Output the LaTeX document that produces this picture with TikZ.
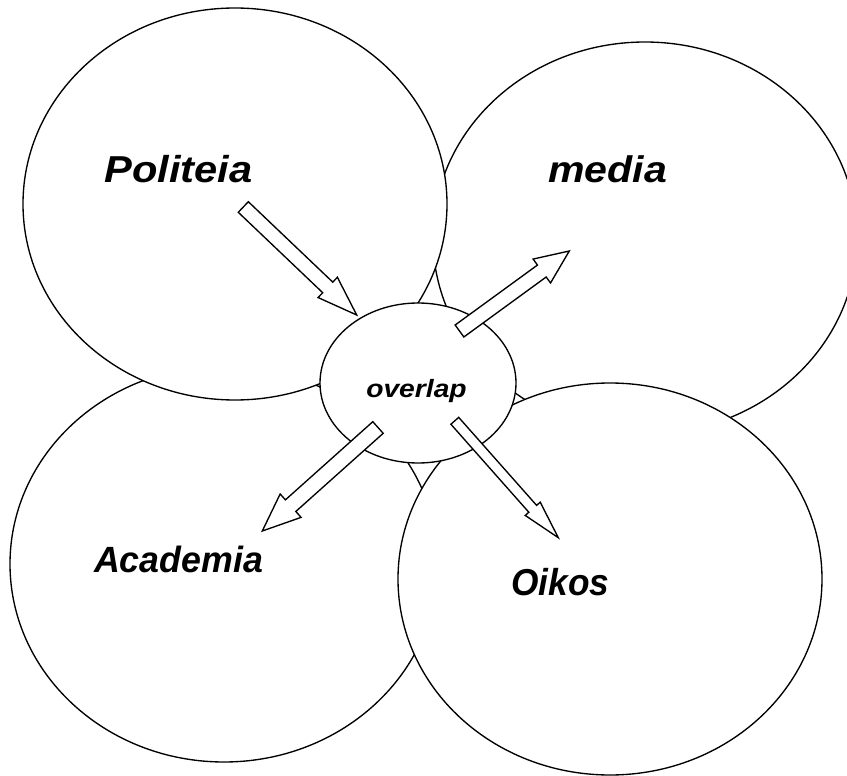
\documentclass[tikz,border=0pt]{standalone}
\usepackage{fontspec}
\setmainfont{Liberation Sans}
\usepackage{graphicx}
\usetikzlibrary{shapes.geometric,calc}
\newcommand{\labtext}[3]{\fontsize{#1pt}{#1pt}\selectfont\scalebox{#2}[1]{#3}}
\newcommand{\blockarrow}[5]{%
  \coordinate (ba-c) at ($(#2)!#5!(#1)$);
  \draw[hollowarrow] ($(#1)!#3!90:(#2)$) -- ($(ba-c)!#3!90:(#2)$) -- ($(ba-c)!#4!90:(#2)$) -- (#2)
    -- ($(ba-c)!#4!-90:(#2)$) -- ($(ba-c)!#3!-90:(#2)$) -- ($(#1)!#3!-90:(#2)$) -- cycle;}
\begin{document}
\begin{tikzpicture}[x=1pt,y=-1pt,
  circ/.style={draw=black, fill=white, ellipse, inner sep=0pt, outer sep=0pt, line width=1.35pt},
  big/.style={circ, minimum width=424pt, minimum height=392pt},
  lbl/.style={anchor=base, inner sep=0pt, font=\bfseries\itshape},
  hollowarrow/.style={draw=black, fill=white, line width=1.35pt, line join=miter}]
\useasboundingbox[fill=white] (0,0) rectangle (847,776);
% big circles (stacking order as in the reference)
\node[circ, minimum width=428pt, minimum height=396pt] (acad) at (224,564) {};
\node[big] (media) at (645,238) {};
\node[big] (pol) at (235,204) {};
\node[big] (oikos) at (610,579) {};
% central ellipse
\node[circ, minimum width=196pt, minimum height=160pt] (ov) at (418,383) {};
% labels
\node[lbl] (lpol) at (178.5,182) {\labtext{37.5}{1.11}{Politeia}};
\node[lbl] (lmedia) at (607.5,182) {\labtext{37}{1.11}{media}};
\node[lbl] (lacad) at (178.5,572) {\labtext{36.5}{0.98}{Academia}};
\node[lbl] (loikos) at (560.5,595) {\labtext{37.5}{0.94}{Oikos}};
\node[lbl] (lov) at (416.5,397) {\labtext{25}{1.13}{overlap}};
% arrow end points
\coordinate (a1t) at (243.3,207);
\coordinate (a1h) at (356.7,315);
\coordinate (a2t) at (459.5,331);
\coordinate (a2h) at (569.3,251);
\coordinate (a3t) at (378,427.5);
\coordinate (a3h) at (262.3,531);
\coordinate (a4t) at (454.8,420.8);
\coordinate (a4h) at (558.3,537.7);
\blockarrow{a1t}{a1h}{7.3pt}{14pt}{40pt}
\blockarrow{a2t}{a2h}{7.4pt}{14.8pt}{34pt}
\blockarrow{a3t}{a3h}{7.8pt}{15.7pt}{38pt}
\blockarrow{a4t}{a4h}{5.2pt}{10pt}{38.6pt}
\end{tikzpicture}
\end{document}
